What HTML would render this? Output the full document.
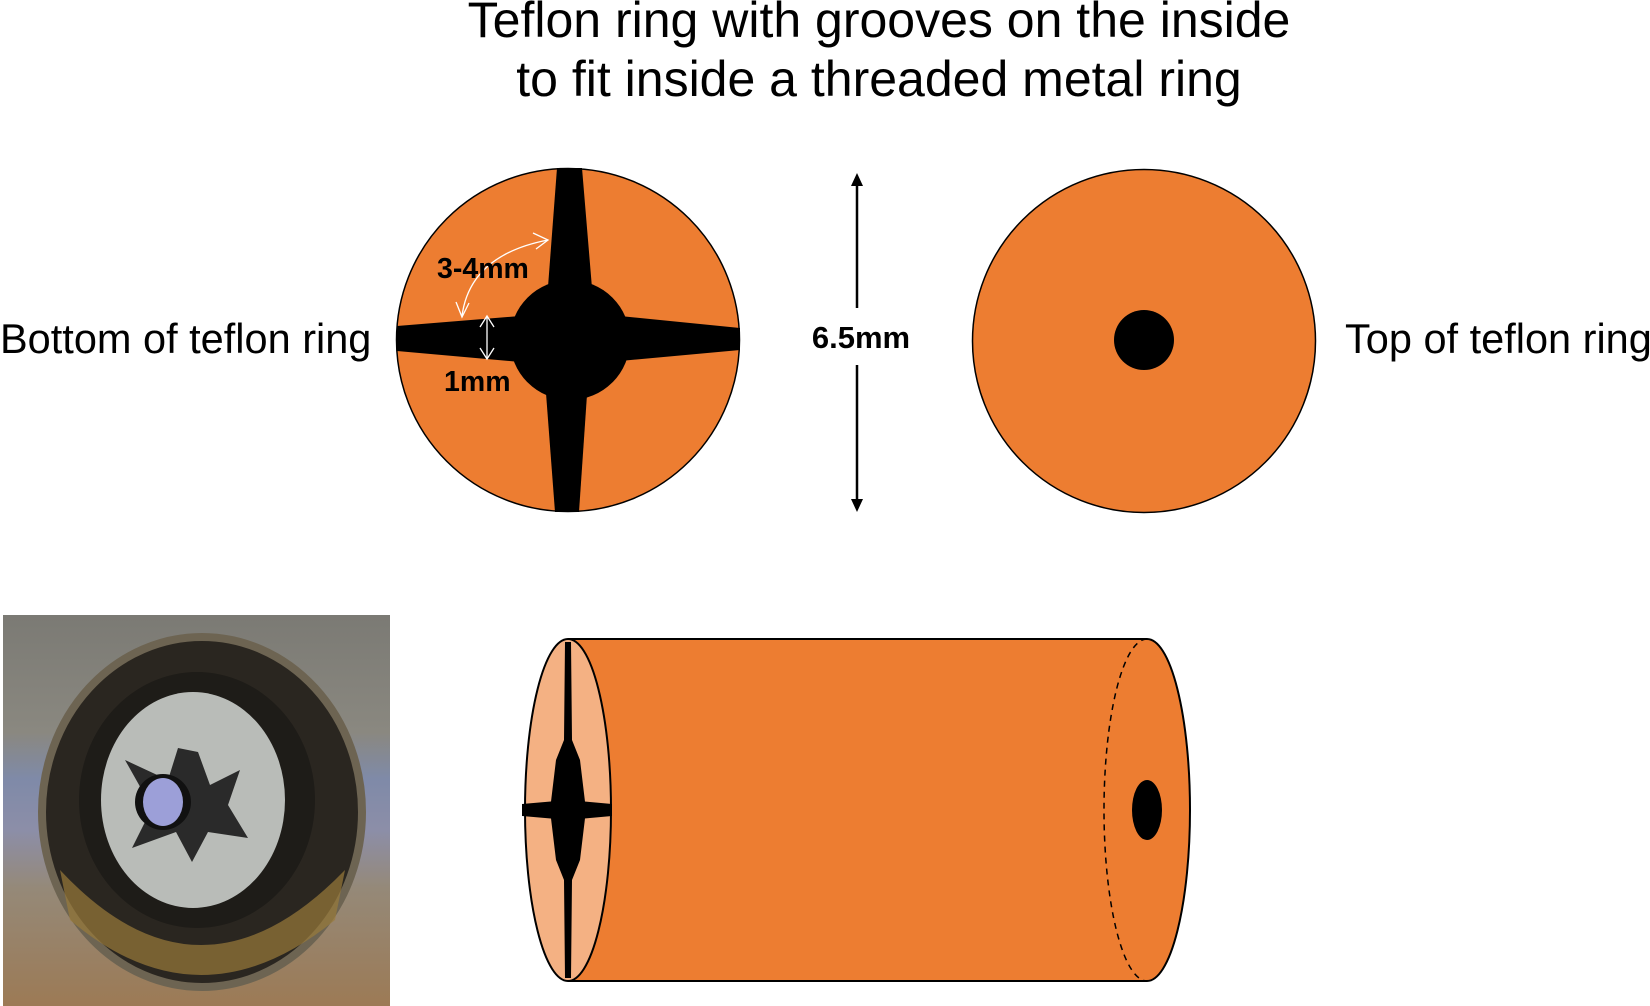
<!DOCTYPE html>
<html><head><meta charset="utf-8"><style>
html,body{margin:0;padding:0;background:#fff;}
svg{display:block;}
text{font-family:"Liberation Sans",sans-serif;}
</style></head><body>
<svg width="1650" height="1006" viewBox="0 0 1650 1006">
<defs>
<linearGradient id="bg" x1="0" y1="0" x2="0" y2="1">
<stop offset="0" stop-color="#7b7a74"/><stop offset="0.3" stop-color="#8a8880"/>
<stop offset="0.42" stop-color="#7f8aa8"/><stop offset="0.55" stop-color="#8c8ea8"/>
<stop offset="0.7" stop-color="#958978"/><stop offset="1" stop-color="#9c7a55"/>
</linearGradient>
</defs>
<g>
<text x="879" y="37" font-size="50" text-anchor="middle">Teflon ring with grooves on the inside</text>
<text x="879" y="96" font-size="50" text-anchor="middle">to fit inside a threaded metal ring</text>
</g>
<text x="0" y="353" font-size="41.5">Bottom of teflon ring</text>
<text x="1345" y="353" font-size="41.5">Top of teflon ring</text>

<g>
<circle cx="568" cy="340" r="171.5" fill="#ed7d31" stroke="#000" stroke-width="1.5"/>
<polygon points="557,168 582,168 593,300 547,300" fill="#000"/>
<polygon points="545,380 588,380 579,512 555,512" fill="#000"/>
<polygon points="397,326 397,351 520,362 520,316" fill="#000"/>
<polygon points="620,316 620,361 740,350 740,328" fill="#000"/>
<circle cx="570" cy="340" r="60" fill="#000"/>
<path d="M462,316 Q470,255 548,240" fill="none" stroke="#fff" stroke-width="1.3"/>
<path d="M533,233 L548,240 L536,249" fill="none" stroke="#fff" stroke-width="1.3"/>
<path d="M456,302 L462,317 L469,303" fill="none" stroke="#fff" stroke-width="1.3"/>
<line x1="487" y1="316" x2="487" y2="359" stroke="#fff" stroke-width="1.3"/>
<path d="M480,327 L487,316 L494,327 M480,348 L487,359 L494,348" fill="none" stroke="#fff" stroke-width="1.3"/>
<text x="437" y="278" font-size="28.5" font-weight="bold">3-4mm</text>
<text x="444" y="391" font-size="28.5" font-weight="bold">1mm</text>
</g>

<g>
<line x1="857" y1="180" x2="857" y2="308" stroke="#000" stroke-width="2.5"/>
<line x1="857" y1="365" x2="857" y2="505" stroke="#000" stroke-width="2.5"/>
<polygon points="851,186 857,173 863,186" fill="#000"/>
<polygon points="851,499 857,512 863,499" fill="#000"/>
<text x="861" y="348" font-size="31" font-weight="bold" text-anchor="middle">6.5mm</text>
</g>

<g>
<circle cx="1144" cy="341" r="171.5" fill="#ed7d31" stroke="#000" stroke-width="1.5"/>
<circle cx="1144" cy="340" r="30" fill="#000"/>
</g>

<g>
<rect x="3" y="615" width="387" height="391" fill="url(#bg)"/>
<ellipse cx="202" cy="812" rx="160" ry="175" fill="#2a2620" stroke="#6d6452" stroke-width="8"/>
<path d="M60,870 Q200,1020 345,870 L335,920 Q200,1030 70,920 Z" fill="#9a7a3a" opacity="0.7"/>
<ellipse cx="197" cy="800" rx="118" ry="128" fill="#1e1c18"/>
<ellipse cx="193" cy="800" rx="92" ry="108" fill="#b9bcb8"/>
<path d="M125,760 L168,780 L178,748 L198,752 L210,785 L240,770 L228,805 L248,838 L208,832 L192,862 L176,832 L132,848 L152,808 Z" fill="#2a2a2a"/>
<circle cx="163" cy="802" r="28" fill="#111"/>
<ellipse cx="163" cy="802" rx="20" ry="24" fill="#9c9fd8"/>
</g>

<g>
<rect x="568" y="639" width="579" height="342" fill="#ed7d31"/>
<line x1="568" y1="639" x2="1147" y2="639" stroke="#000" stroke-width="2"/>
<line x1="568" y1="981" x2="1147" y2="981" stroke="#000" stroke-width="2"/>
<path d="M1147,639 A43,171 0 0 1 1147,981" fill="#ed7d31" stroke="#000" stroke-width="2"/>
<path d="M1147,639 A43,171 0 0 0 1147,981" fill="none" stroke="#000" stroke-width="1.5" stroke-dasharray="6,5"/>
<ellipse cx="1147" cy="810" rx="15" ry="30" fill="#000"/>
<ellipse cx="568" cy="810" rx="43" ry="171" fill="#f4b183" stroke="#000" stroke-width="2"/>
<polygon points="565,642 571,642 572,740 580,760 586,810 580,860 572,880 571,978 565,978 564,880 556,860 550,810 556,760 564,740" fill="#000"/>
<polygon points="522,804 568,800 612,804 612,816 568,820 522,816" fill="#000"/>
</g>
</svg>
</body></html>
